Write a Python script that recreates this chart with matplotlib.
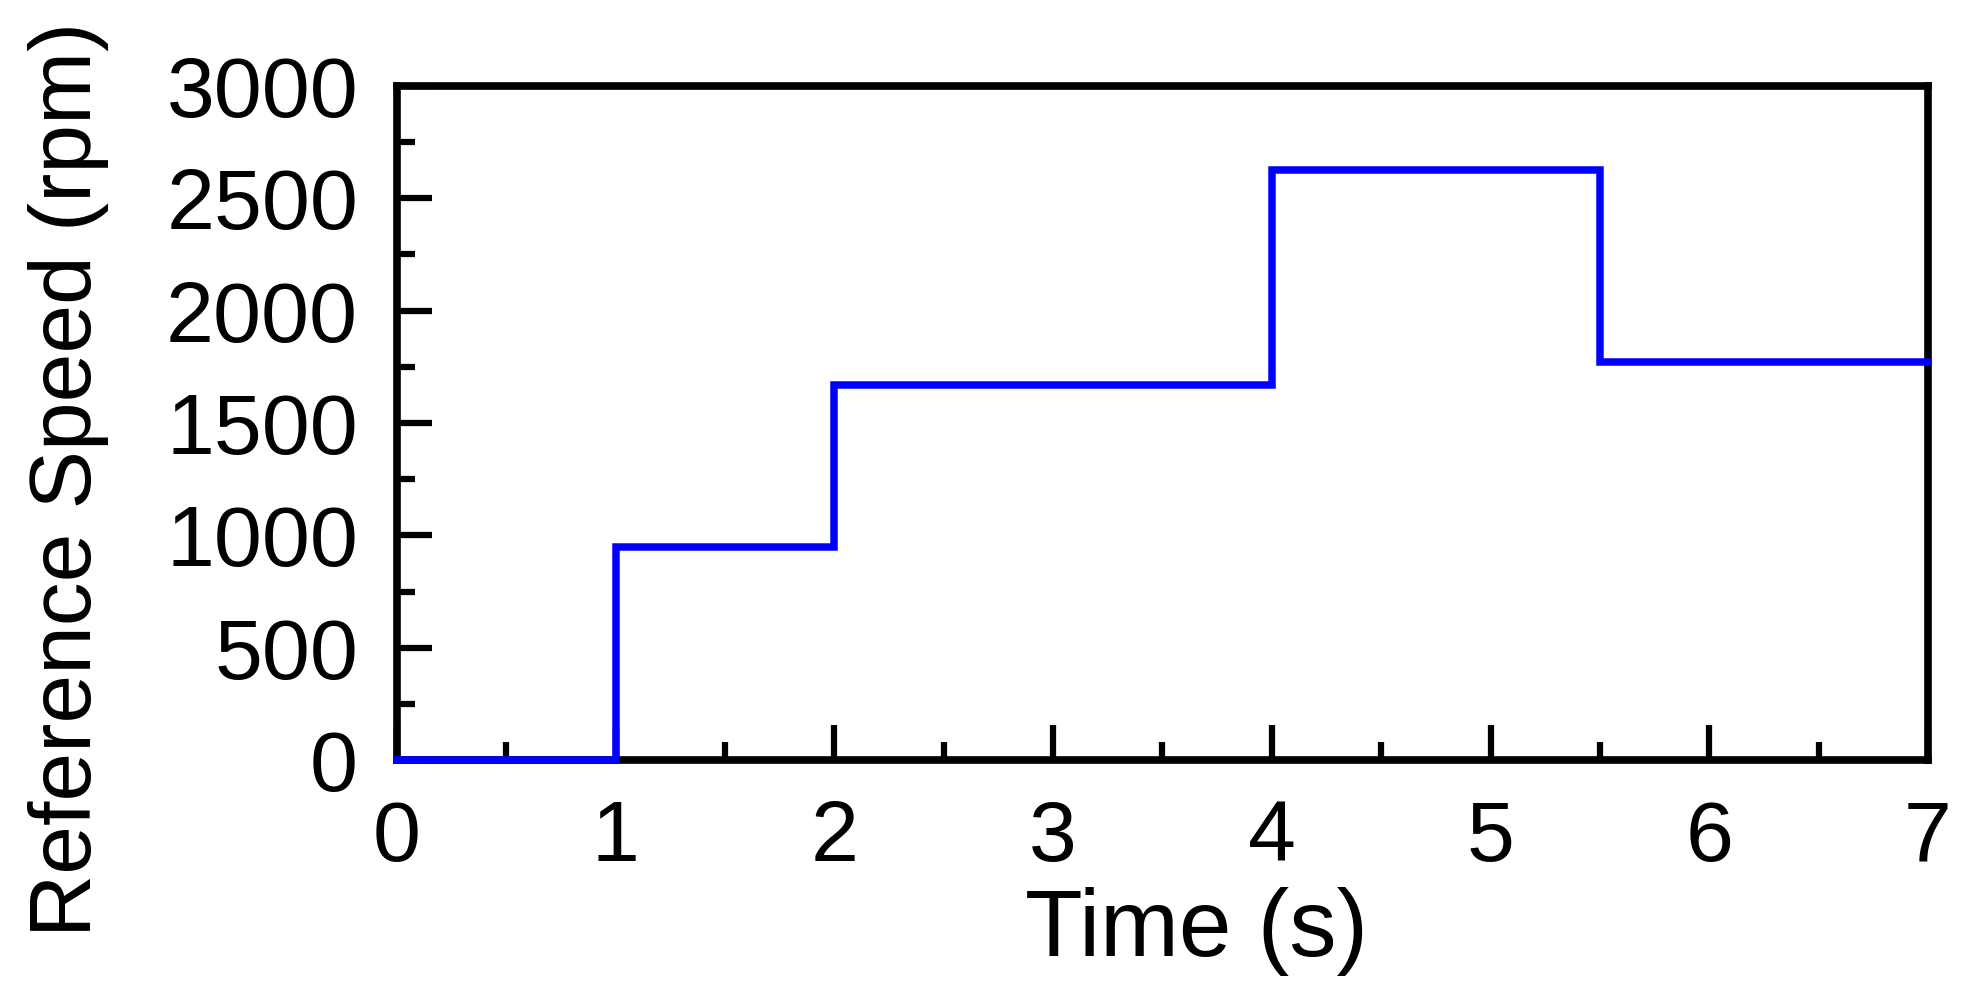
import matplotlib
matplotlib.use("Agg")
import matplotlib.pyplot as plt
from matplotlib.ticker import MultipleLocator

plt.rcParams['font.family'] = ['Liberation Sans', 'DejaVu Sans']

# step reference speed profile
t_steps = [0, 1, 2, 4, 5.5, 7]
speed_rpm = [0, 950, 1670, 2625, 1770, 1770]

x_ticks = [0, 1, 2, 3, 4, 5, 6, 7]
y_ticks = [0, 500, 1000, 1500, 2000, 2500, 3000]

fig = plt.figure(figsize=(19.72, 9.96), dpi=100)
ax = fig.add_axes([0.2013, 0.2369, 0.7764, 0.6768])

ax.plot(t_steps, speed_rpm, drawstyle='steps-post', color='#0000ff',
        lw=5.4, solid_joinstyle='miter', clip_on=False, zorder=5)

ax.set_xlim(0, 7)
ax.set_ylim(0, 3000)
ax.set_xticks(x_ticks)
ax.set_yticks(y_ticks)
ax.xaxis.set_minor_locator(MultipleLocator(0.5))
ax.yaxis.set_minor_locator(MultipleLocator(250))

for s in ax.spines.values():
    s.set_linewidth(5.5)
ax.tick_params(which='both', direction='in', width=4.5, labelsize=62,
               top=False, right=False)
ax.tick_params(which='major', length=25)
ax.tick_params(which='minor', length=13)
ax.tick_params(axis='x', pad=28)
ax.tick_params(axis='y', pad=28)

ax.set_xlabel("Time (s)", fontsize=68)
ax.set_ylabel("Reference Speed (rpm)", fontsize=63)
ax.xaxis.set_label_coords(0.5225, -0.188)
ax.yaxis.set_label_coords(-0.188, 0.417)

fig.savefig("out.png", dpi=100)
